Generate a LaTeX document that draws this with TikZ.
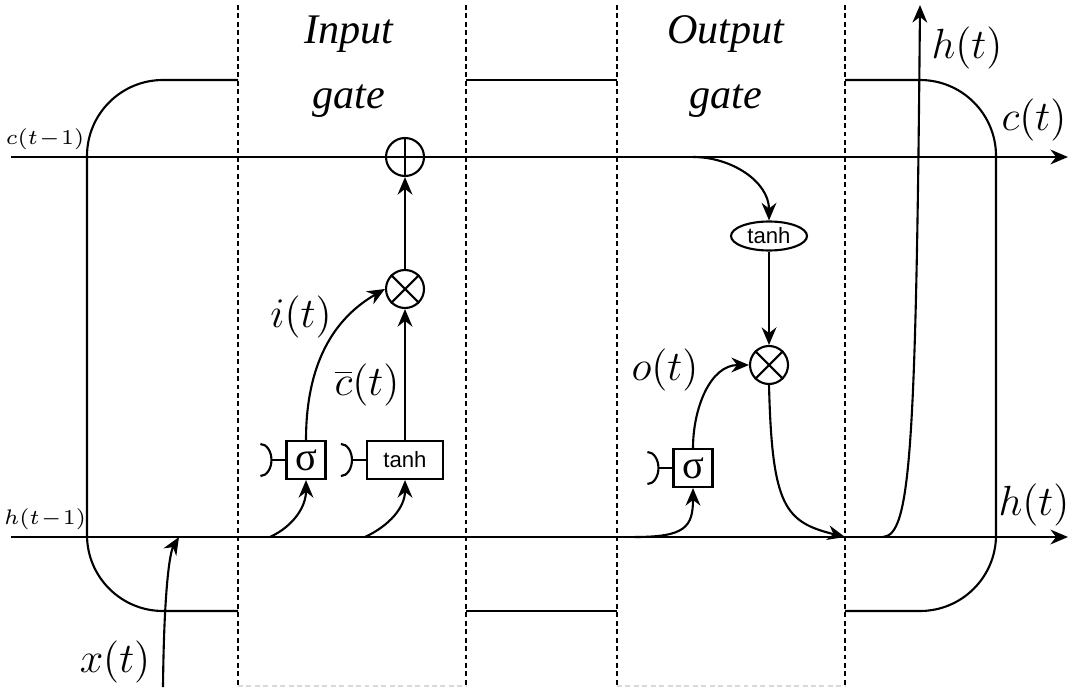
\documentclass[tikz,border=0pt]{standalone}
\usepackage{fontspec}
\setmainfont{Liberation Serif}
\newfontfamily\sansfont{Liberation Sans}
\usetikzlibrary{arrows.meta,calc,shapes.geometric}
\tikzset{
  wire/.style={line width=0.6pt},
  flow/.style={wire, -{Stealth[length=5pt,width=4.2pt]}},
  gateline/.style={line width=0.55pt, dash pattern=on 1.4pt off 1pt},
  op/.style={circle, draw, line width=0.6pt, minimum size=0.38cm, inner sep=0pt},
  layer/.style={rectangle, draw, line width=0.6pt, minimum height=0.38cm, inner sep=0pt, font=\sansfont\fontsize{6.3}{7}\selectfont},
  sig/.style={layer, minimum width=0.39cm, font=\fontsize{11.5}{12}\selectfont},
  squash/.style={ellipse, draw, line width=0.6pt, minimum width=0.76cm, minimum height=0.29cm, inner sep=0pt, font=\sansfont\fontsize{6.3}{7}\selectfont},
  big/.style={font=\fontsize{11.5}{14}\selectfont},
  small/.style={font=\fontsize{6.5}{8}\selectfont},
  title/.style={align=center, font=\fontsize{12}{18.5}\selectfont\itshape}
}
\def\bias(#1){\draw[wire] ($(#1.west)+(-0.25,0.16)$) arc (90:-90:0.11 and 0.16); \draw[wire] ($(#1.west)+(-0.14,0)$) -- (#1.west);}

\begin{document}
\begin{tikzpicture}
	\useasboundingbox (0,0) rectangle (10.72,6.87);
	
	% gate borders
	\foreach \x in {2.38,4.66,6.17,8.45} \draw[gateline] (\x,6.82) -- (\x,0);
	\draw[gateline, black!15] (2.38,0.01) -- (4.66,0.01) (6.17,0.01) -- (8.45,0.01);
	
	% cell outline
	\draw[wire, rounded corners=7.6mm] (2.38,6.07) -- (0.87,6.07) -- (0.87,0.76) -- (2.38,0.76);
	\draw[wire] (4.66,6.07) -- (6.17,6.07) (4.66,0.76) -- (6.17,0.76);
	\draw[wire, rounded corners=7.6mm] (8.45,6.07) -- (9.96,6.07) -- (9.96,0.76) -- (8.45,0.76);
	
	% state lines
	\coordinate (cin) at (0.11,5.30);
	\coordinate (cout) at (10.68,5.30);
	\coordinate (hin) at (0.11,1.50);
	\coordinate (hout) at (10.68,1.50);
	\draw[flow] (cin) -- (cout);
	\draw[flow] (hin) -- (hout);
	
	% operations
	\node[op] (add) at (4.05,5.30) {};
	\node[op] (mulI) at (4.05,3.98) {};
	\node[sig] (sigI) at (3.06,2.27) {σ};
	\node[layer, minimum width=0.76cm] (tanhI) at (4.05,2.27) {tanh};
	\node[squash] (tanhO) at (7.69,4.51) {tanh};
	\node[op] (mulO) at (7.69,3.22) {};
	\node[sig] (sigO) at (6.93,2.19) {σ};
	
	\draw[wire] (add.north) -- (add.south);
	\draw[wire] (mulI.45) -- (mulI.225) (mulI.135) -- (mulI.315);
	\draw[wire] (mulO.45) -- (mulO.225) (mulO.135) -- (mulO.315);
	
	\bias(sigI)
	\bias(tanhI)
	\bias(sigO)
	
	% branches
	\coordinate (tapI) at (2.70,1.50);
	\coordinate (tapC) at (3.65,1.50);
	\coordinate (tapO) at (6.35,1.50);
	\coordinate (tapT) at (6.93,5.30);
	\coordinate (hmid) at (8.45,1.50);
	\coordinate (tapH) at (8.83,1.50);
	\coordinate (hup) at (9.20,6.82);
	\coordinate (xin) at (1.63,0);
	\coordinate (xend) at (1.79,1.50);
	
	\draw[flow] (tapI) to[out=25,in=-90] (sigI.south);
	\draw[flow] (tapC) to[out=25,in=-90] (tanhI.south);
	\draw[flow] (tapO) .. controls (6.85,1.50) and (6.93,1.60) .. (sigO.south);
	\draw[flow] (sigI.north) to[out=90,in=210] (mulI.west);
	\draw[flow] (tanhI.north) -- (mulI.south);
	\draw[flow] (mulI.north) -- (add.south);
	\draw[flow] (tapT) to[out=0,in=90] (tanhO.north);
	\draw[flow] (tanhO.south) -- (mulO.north);
	\draw[flow] (sigO.north) to[out=90,in=180] (mulO.west);
	\draw[flow] (mulO.south) .. controls (7.72,1.80) and (7.85,1.65) .. (hmid);
	\draw[flow] (tapH) .. controls (9.10,1.52) and (9.16,2.30) .. (hup);
	\draw[flow] (xin) .. controls (1.64,1.00) and (1.70,1.35) .. (xend);
	
	% labels
	\node[title] (inTitle) at (3.49,6.20) {Input\\gate};
	\node[title] (outTitle) at (7.26,6.20) {Output\\gate};
	\node[small] (cPrev) at (0.45,5.48) {$c(t\!-\!1)$};
	\node[small] (hPrev) at (0.45,1.68) {$h(t\!-\!1)$};
	\node[big] (hTop) at (9.67,6.39) {$h(t)$};
	\node[big] (cNext) at (10.34,5.67) {$c(t)$};
	\node[big] (hNext) at (10.34,1.82) {$h(t)$};
	\node[big] (xNow) at (1.15,0.25) {$x(t)$};
	\node[big] (iLab) at (3.01,3.70) {$i(t)$};
	\node[big] (cLab) at (3.67,3.02) {$\overline{c}(t)$};
	\node[big] (oLab) at (6.65,3.17) {$o(t)$};
\end{tikzpicture}
\end{document}
